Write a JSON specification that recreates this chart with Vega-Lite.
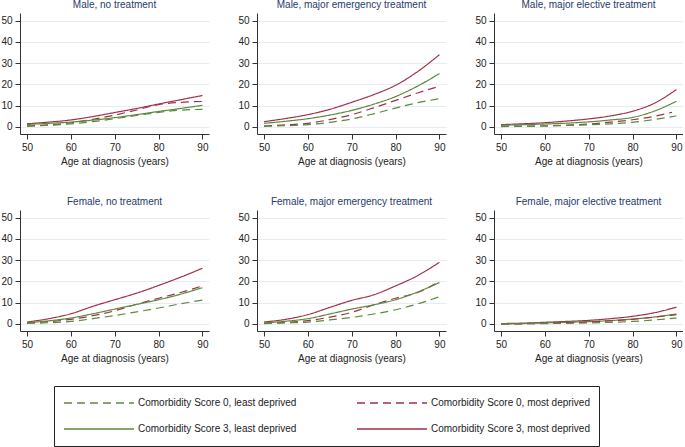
{
  "$schema": "https://vega.github.io/schema/vega-lite/v6.json",
  "padding": 0,
  "background": "white",
  "data": {"values": [
    {"panel":"Male, no treatment","series":"3M","age":50,"risk":1.5},{"panel":"Male, no treatment","series":"3M","age":55,"risk":2.3},{"panel":"Male, no treatment","series":"3M","age":60,"risk":3.3},{"panel":"Male, no treatment","series":"3M","age":65,"risk":4.9},{"panel":"Male, no treatment","series":"3M","age":70,"risk":6.8},{"panel":"Male, no treatment","series":"3M","age":75,"risk":8.7},{"panel":"Male, no treatment","series":"3M","age":80,"risk":10.8},{"panel":"Male, no treatment","series":"3M","age":85,"risk":12.8},{"panel":"Male, no treatment","series":"3M","age":90,"risk":14.8},
    {"panel":"Male, no treatment","series":"0M","age":50,"risk":0.5},{"panel":"Male, no treatment","series":"0M","age":55,"risk":1.0},{"panel":"Male, no treatment","series":"0M","age":60,"risk":2.0},{"panel":"Male, no treatment","series":"0M","age":65,"risk":3.6},{"panel":"Male, no treatment","series":"0M","age":70,"risk":5.6},{"panel":"Male, no treatment","series":"0M","age":75,"risk":8.0},{"panel":"Male, no treatment","series":"0M","age":80,"risk":10.5},{"panel":"Male, no treatment","series":"0M","age":85,"risk":11.6},{"panel":"Male, no treatment","series":"0M","age":90,"risk":12.0},
    {"panel":"Male, no treatment","series":"3L","age":50,"risk":1.2},{"panel":"Male, no treatment","series":"3L","age":55,"risk":1.7},{"panel":"Male, no treatment","series":"3L","age":60,"risk":2.3},{"panel":"Male, no treatment","series":"3L","age":65,"risk":3.2},{"panel":"Male, no treatment","series":"3L","age":70,"risk":4.4},{"panel":"Male, no treatment","series":"3L","age":75,"risk":5.8},{"panel":"Male, no treatment","series":"3L","age":80,"risk":7.3},{"panel":"Male, no treatment","series":"3L","age":85,"risk":8.7},{"panel":"Male, no treatment","series":"3L","age":90,"risk":10.2},
    {"panel":"Male, no treatment","series":"0L","age":50,"risk":0.3},{"panel":"Male, no treatment","series":"0L","age":55,"risk":0.8},{"panel":"Male, no treatment","series":"0L","age":60,"risk":1.5},{"panel":"Male, no treatment","series":"0L","age":65,"risk":2.5},{"panel":"Male, no treatment","series":"0L","age":70,"risk":3.9},{"panel":"Male, no treatment","series":"0L","age":75,"risk":5.4},{"panel":"Male, no treatment","series":"0L","age":80,"risk":6.9},{"panel":"Male, no treatment","series":"0L","age":85,"risk":7.9},{"panel":"Male, no treatment","series":"0L","age":90,"risk":8.3},

    {"panel":"Male, major emergency treatment","series":"3M","age":50,"risk":2.5},{"panel":"Male, major emergency treatment","series":"3M","age":55,"risk":4.0},{"panel":"Male, major emergency treatment","series":"3M","age":60,"risk":5.8},{"panel":"Male, major emergency treatment","series":"3M","age":65,"risk":8.3},{"panel":"Male, major emergency treatment","series":"3M","age":70,"risk":11.6},{"panel":"Male, major emergency treatment","series":"3M","age":75,"risk":15.2},{"panel":"Male, major emergency treatment","series":"3M","age":80,"risk":19.6},{"panel":"Male, major emergency treatment","series":"3M","age":85,"risk":26.0},{"panel":"Male, major emergency treatment","series":"3M","age":90,"risk":34.0},
    {"panel":"Male, major emergency treatment","series":"3L","age":50,"risk":1.7},{"panel":"Male, major emergency treatment","series":"3L","age":55,"risk":2.7},{"panel":"Male, major emergency treatment","series":"3L","age":60,"risk":3.9},{"panel":"Male, major emergency treatment","series":"3L","age":65,"risk":5.6},{"panel":"Male, major emergency treatment","series":"3L","age":70,"risk":7.8},{"panel":"Male, major emergency treatment","series":"3L","age":75,"risk":10.7},{"panel":"Male, major emergency treatment","series":"3L","age":80,"risk":14.3},{"panel":"Male, major emergency treatment","series":"3L","age":85,"risk":19.2},{"panel":"Male, major emergency treatment","series":"3L","age":90,"risk":25.1},
    {"panel":"Male, major emergency treatment","series":"0M","age":50,"risk":0.5},{"panel":"Male, major emergency treatment","series":"0M","age":55,"risk":1.0},{"panel":"Male, major emergency treatment","series":"0M","age":60,"risk":1.7},{"panel":"Male, major emergency treatment","series":"0M","age":65,"risk":3.5},{"panel":"Male, major emergency treatment","series":"0M","age":70,"risk":5.8},{"panel":"Male, major emergency treatment","series":"0M","age":75,"risk":9.0},{"panel":"Male, major emergency treatment","series":"0M","age":80,"risk":12.5},{"panel":"Male, major emergency treatment","series":"0M","age":85,"risk":16.0},{"panel":"Male, major emergency treatment","series":"0M","age":90,"risk":19.1},
    {"panel":"Male, major emergency treatment","series":"0L","age":50,"risk":0.3},{"panel":"Male, major emergency treatment","series":"0L","age":55,"risk":0.6},{"panel":"Male, major emergency treatment","series":"0L","age":60,"risk":1.1},{"panel":"Male, major emergency treatment","series":"0L","age":65,"risk":2.2},{"panel":"Male, major emergency treatment","series":"0L","age":70,"risk":3.8},{"panel":"Male, major emergency treatment","series":"0L","age":75,"risk":6.2},{"panel":"Male, major emergency treatment","series":"0L","age":80,"risk":8.9},{"panel":"Male, major emergency treatment","series":"0L","age":85,"risk":11.4},{"panel":"Male, major emergency treatment","series":"0L","age":90,"risk":13.3},

    {"panel":"Male, major elective treatment","series":"3M","age":50,"risk":1.1},{"panel":"Male, major elective treatment","series":"3M","age":55,"risk":1.5},{"panel":"Male, major elective treatment","series":"3M","age":60,"risk":2.0},{"panel":"Male, major elective treatment","series":"3M","age":65,"risk":2.8},{"panel":"Male, major elective treatment","series":"3M","age":70,"risk":3.8},{"panel":"Male, major elective treatment","series":"3M","age":75,"risk":5.2},{"panel":"Male, major elective treatment","series":"3M","age":80,"risk":7.4},{"panel":"Male, major elective treatment","series":"3M","age":85,"risk":11.2},{"panel":"Male, major elective treatment","series":"3M","age":90,"risk":17.6},
    {"panel":"Male, major elective treatment","series":"3L","age":50,"risk":0.8},{"panel":"Male, major elective treatment","series":"3L","age":55,"risk":1.1},{"panel":"Male, major elective treatment","series":"3L","age":60,"risk":1.4},{"panel":"Male, major elective treatment","series":"3L","age":65,"risk":1.8},{"panel":"Male, major elective treatment","series":"3L","age":70,"risk":2.4},{"panel":"Male, major elective treatment","series":"3L","age":75,"risk":3.3},{"panel":"Male, major elective treatment","series":"3L","age":80,"risk":4.5},{"panel":"Male, major elective treatment","series":"3L","age":85,"risk":7.5},{"panel":"Male, major elective treatment","series":"3L","age":90,"risk":12.1},
    {"panel":"Male, major elective treatment","series":"0M","age":50,"risk":0.3},{"panel":"Male, major elective treatment","series":"0M","age":55,"risk":0.4},{"panel":"Male, major elective treatment","series":"0M","age":60,"risk":0.5},{"panel":"Male, major elective treatment","series":"0M","age":65,"risk":0.9},{"panel":"Male, major elective treatment","series":"0M","age":70,"risk":1.4},{"panel":"Male, major elective treatment","series":"0M","age":75,"risk":2.3},{"panel":"Male, major elective treatment","series":"0M","age":80,"risk":3.4},{"panel":"Male, major elective treatment","series":"0M","age":85,"risk":5.0},{"panel":"Male, major elective treatment","series":"0M","age":89,"risk":6.9},
    {"panel":"Male, major elective treatment","series":"0L","age":50,"risk":0.2},{"panel":"Male, major elective treatment","series":"0L","age":55,"risk":0.3},{"panel":"Male, major elective treatment","series":"0L","age":60,"risk":0.5},{"panel":"Male, major elective treatment","series":"0L","age":65,"risk":0.7},{"panel":"Male, major elective treatment","series":"0L","age":70,"risk":1.0},{"panel":"Male, major elective treatment","series":"0L","age":75,"risk":1.5},{"panel":"Male, major elective treatment","series":"0L","age":80,"risk":2.2},{"panel":"Male, major elective treatment","series":"0L","age":85,"risk":3.5},{"panel":"Male, major elective treatment","series":"0L","age":90,"risk":5.2},

    {"panel":"Female, no treatment","series":"3M","age":50,"risk":0.9},{"panel":"Female, no treatment","series":"3M","age":55,"risk":2.5},{"panel":"Female, no treatment","series":"3M","age":60,"risk":4.8},{"panel":"Female, no treatment","series":"3M","age":65,"risk":8.3},{"panel":"Female, no treatment","series":"3M","age":70,"risk":11.4},{"panel":"Female, no treatment","series":"3M","age":75,"risk":14.5},{"panel":"Female, no treatment","series":"3M","age":80,"risk":18.1},{"panel":"Female, no treatment","series":"3M","age":85,"risk":22.0},{"panel":"Female, no treatment","series":"3M","age":90,"risk":26.2},
    {"panel":"Female, no treatment","series":"0M","age":50,"risk":0.5},{"panel":"Female, no treatment","series":"0M","age":55,"risk":1.1},{"panel":"Female, no treatment","series":"0M","age":60,"risk":2.2},{"panel":"Female, no treatment","series":"0M","age":65,"risk":3.9},{"panel":"Female, no treatment","series":"0M","age":70,"risk":6.2},{"panel":"Female, no treatment","series":"0M","age":75,"risk":9.3},{"panel":"Female, no treatment","series":"0M","age":80,"risk":12.1},{"panel":"Female, no treatment","series":"0M","age":85,"risk":14.8},{"panel":"Female, no treatment","series":"0M","age":90,"risk":17.9},
    {"panel":"Female, no treatment","series":"3L","age":50,"risk":0.6},{"panel":"Female, no treatment","series":"3L","age":55,"risk":1.5},{"panel":"Female, no treatment","series":"3L","age":60,"risk":2.8},{"panel":"Female, no treatment","series":"3L","age":65,"risk":4.8},{"panel":"Female, no treatment","series":"3L","age":70,"risk":7.0},{"panel":"Female, no treatment","series":"3L","age":75,"risk":9.2},{"panel":"Female, no treatment","series":"3L","age":80,"risk":11.4},{"panel":"Female, no treatment","series":"3L","age":85,"risk":14.0},{"panel":"Female, no treatment","series":"3L","age":90,"risk":17.1},
    {"panel":"Female, no treatment","series":"0L","age":50,"risk":0.3},{"panel":"Female, no treatment","series":"0L","age":55,"risk":0.6},{"panel":"Female, no treatment","series":"0L","age":60,"risk":1.2},{"panel":"Female, no treatment","series":"0L","age":65,"risk":2.5},{"panel":"Female, no treatment","series":"0L","age":70,"risk":4.0},{"panel":"Female, no treatment","series":"0L","age":75,"risk":5.7},{"panel":"Female, no treatment","series":"0L","age":80,"risk":7.5},{"panel":"Female, no treatment","series":"0L","age":85,"risk":9.5},{"panel":"Female, no treatment","series":"0L","age":90,"risk":11.2},

    {"panel":"Female, major emergency treatment","series":"3M","age":50,"risk":0.9},{"panel":"Female, major emergency treatment","series":"3M","age":55,"risk":2.2},{"panel":"Female, major emergency treatment","series":"3M","age":60,"risk":4.4},{"panel":"Female, major emergency treatment","series":"3M","age":65,"risk":7.8},{"panel":"Female, major emergency treatment","series":"3M","age":70,"risk":11.1},{"panel":"Female, major emergency treatment","series":"3M","age":75,"risk":13.7},{"panel":"Female, major emergency treatment","series":"3M","age":80,"risk":17.9},{"panel":"Female, major emergency treatment","series":"3M","age":85,"risk":22.7},{"panel":"Female, major emergency treatment","series":"3M","age":90,"risk":29.0},
    {"panel":"Female, major emergency treatment","series":"0M","age":50,"risk":0.3},{"panel":"Female, major emergency treatment","series":"0M","age":55,"risk":0.8},{"panel":"Female, major emergency treatment","series":"0M","age":60,"risk":1.6},{"panel":"Female, major emergency treatment","series":"0M","age":65,"risk":3.2},{"panel":"Female, major emergency treatment","series":"0M","age":70,"risk":5.5},{"panel":"Female, major emergency treatment","series":"0M","age":75,"risk":9.0},{"panel":"Female, major emergency treatment","series":"0M","age":80,"risk":12.1},{"panel":"Female, major emergency treatment","series":"0M","age":85,"risk":14.8},{"panel":"Female, major emergency treatment","series":"0M","age":90,"risk":20.0},
    {"panel":"Female, major emergency treatment","series":"3L","age":50,"risk":0.5},{"panel":"Female, major emergency treatment","series":"3L","age":55,"risk":1.3},{"panel":"Female, major emergency treatment","series":"3L","age":60,"risk":2.5},{"panel":"Female, major emergency treatment","series":"3L","age":65,"risk":4.7},{"panel":"Female, major emergency treatment","series":"3L","age":70,"risk":7.0},{"panel":"Female, major emergency treatment","series":"3L","age":75,"risk":9.0},{"panel":"Female, major emergency treatment","series":"3L","age":80,"risk":11.4},{"panel":"Female, major emergency treatment","series":"3L","age":85,"risk":15.0},{"panel":"Female, major emergency treatment","series":"3L","age":90,"risk":19.5},
    {"panel":"Female, major emergency treatment","series":"0L","age":50,"risk":0.2},{"panel":"Female, major emergency treatment","series":"0L","age":55,"risk":0.5},{"panel":"Female, major emergency treatment","series":"0L","age":60,"risk":0.9},{"panel":"Female, major emergency treatment","series":"0L","age":65,"risk":1.9},{"panel":"Female, major emergency treatment","series":"0L","age":70,"risk":3.1},{"panel":"Female, major emergency treatment","series":"0L","age":75,"risk":4.7},{"panel":"Female, major emergency treatment","series":"0L","age":80,"risk":6.7},{"panel":"Female, major emergency treatment","series":"0L","age":85,"risk":9.4},{"panel":"Female, major emergency treatment","series":"0L","age":90,"risk":12.8},

    {"panel":"Female, major elective treatment","series":"3M","age":50,"risk":0.2},{"panel":"Female, major elective treatment","series":"3M","age":55,"risk":0.4},{"panel":"Female, major elective treatment","series":"3M","age":60,"risk":0.8},{"panel":"Female, major elective treatment","series":"3M","age":65,"risk":1.2},{"panel":"Female, major elective treatment","series":"3M","age":70,"risk":1.7},{"panel":"Female, major elective treatment","series":"3M","age":75,"risk":2.5},{"panel":"Female, major elective treatment","series":"3M","age":80,"risk":3.6},{"panel":"Female, major elective treatment","series":"3M","age":85,"risk":5.3},{"panel":"Female, major elective treatment","series":"3M","age":90,"risk":7.9},
    {"panel":"Female, major elective treatment","series":"3L","age":50,"risk":0.0},{"panel":"Female, major elective treatment","series":"3L","age":55,"risk":0.2},{"panel":"Female, major elective treatment","series":"3L","age":60,"risk":0.5},{"panel":"Female, major elective treatment","series":"3L","age":65,"risk":0.8},{"panel":"Female, major elective treatment","series":"3L","age":70,"risk":1.1},{"panel":"Female, major elective treatment","series":"3L","age":75,"risk":1.6},{"panel":"Female, major elective treatment","series":"3L","age":80,"risk":2.3},{"panel":"Female, major elective treatment","series":"3L","age":85,"risk":3.3},{"panel":"Female, major elective treatment","series":"3L","age":90,"risk":4.7},
    {"panel":"Female, major elective treatment","series":"0M","age":50,"risk":0.0},{"panel":"Female, major elective treatment","series":"0M","age":55,"risk":0.1},{"panel":"Female, major elective treatment","series":"0M","age":60,"risk":0.3},{"panel":"Female, major elective treatment","series":"0M","age":65,"risk":0.6},{"panel":"Female, major elective treatment","series":"0M","age":70,"risk":0.9},{"panel":"Female, major elective treatment","series":"0M","age":75,"risk":1.5},{"panel":"Female, major elective treatment","series":"0M","age":80,"risk":2.2},{"panel":"Female, major elective treatment","series":"0M","age":85,"risk":3.2},{"panel":"Female, major elective treatment","series":"0M","age":90,"risk":4.4},
    {"panel":"Female, major elective treatment","series":"0L","age":50,"risk":0.0},{"panel":"Female, major elective treatment","series":"0L","age":55,"risk":0.1},{"panel":"Female, major elective treatment","series":"0L","age":60,"risk":0.2},{"panel":"Female, major elective treatment","series":"0L","age":65,"risk":0.3},{"panel":"Female, major elective treatment","series":"0L","age":70,"risk":0.5},{"panel":"Female, major elective treatment","series":"0L","age":75,"risk":0.8},{"panel":"Female, major elective treatment","series":"0L","age":80,"risk":1.2},{"panel":"Female, major elective treatment","series":"0L","age":85,"risk":1.9},{"panel":"Female, major elective treatment","series":"0L","age":90,"risk":2.8}
  ]},
  "facet": {
    "field": "panel",
    "type": "nominal",
    "sort": ["Male, no treatment","Male, major emergency treatment","Male, major elective treatment","Female, no treatment","Female, major emergency treatment","Female, major elective treatment"],
    "header": {"title": null, "labelFontSize": 10, "labelColor": "#1f3a6e", "labelFont": "Liberation Sans", "labelPadding": 3}
  },
  "columns": 3,
  "spacing": {"row": 31, "column": 28},
  "spec": {
    "width": 189,
    "height": 121,
    "mark": {"type": "line", "strokeWidth": 1.2, "interpolate": "monotone"},
    "encoding": {
      "x": {"field": "age", "type": "quantitative",
            "scale": {"domain": [48.4, 91.5], "nice": false, "zero": false},
            "axis": {"values": [50, 60, 70, 80, 90], "title": "Age at diagnosis (years)", "grid": false}},
      "y": {"field": "risk", "type": "quantitative",
            "scale": {"domain": [-3.3, 53.6], "nice": false, "zero": false},
            "axis": {"values": [0, 10, 20, 30, 40, 50], "title": null, "grid": true}},
      "color": {"field": "series", "type": "nominal",
                "scale": {"domain": ["0L", "0M", "3L", "3M"], "range": ["#5a8a3c", "#a0304a", "#5a8a3c", "#a0304a"]},
                "legend": {"labelExpr": "{'0L':'Comorbidity Score 0, least deprived','0M':'Comorbidity Score 0, most deprived','3L':'Comorbidity Score 3, least deprived','3M':'Comorbidity Score 3, most deprived'}[datum.label]"}},
      "strokeDash": {"field": "series", "type": "nominal",
                "scale": {"domain": ["0L", "0M", "3L", "3M"], "range": [[8, 5], [8, 5], [1, 0], [1, 0]]},
                "legend": {"labelExpr": "{'0L':'Comorbidity Score 0, least deprived','0M':'Comorbidity Score 0, most deprived','3L':'Comorbidity Score 3, least deprived','3M':'Comorbidity Score 3, most deprived'}[datum.label]"}}
    }
  },
  "resolve": {"axis": {"x": "independent", "y": "independent"}},
  "config": {
    "font": "Liberation Sans",
    "view": {"stroke": null},
    "axis": {
      "labelFontSize": 10, "labelColor": "#222", "labelFont": "Liberation Sans",
      "titleFontSize": 10, "titleFontWeight": "normal", "titleColor": "#222", "titleFont": "Liberation Sans",
      "domainColor": "#333", "tickColor": "#333", "tickSize": 5, "labelPadding": 3, "titlePadding": 4,
      "gridColor": "#e6edf2", "gridWidth": 1
    },
    "legend": {
      "orient": "none", "legendX": 34, "legendY": 373, "direction": "horizontal",
      "title": null, "columns": 2, "symbolType": "stroke", "symbolSize": 4900, "symbolStrokeWidth": 1.5,
      "clipHeight": 16, "rowPadding": 10, "columnPadding": 59, "padding": 9,
      "strokeColor": "#222", "fillColor": "white", "labelFontSize": 10, "labelColor": "#222", "labelOffset": 3,
      "labelLimit": 300, "gridAlign": "all"
    }
  }
}
